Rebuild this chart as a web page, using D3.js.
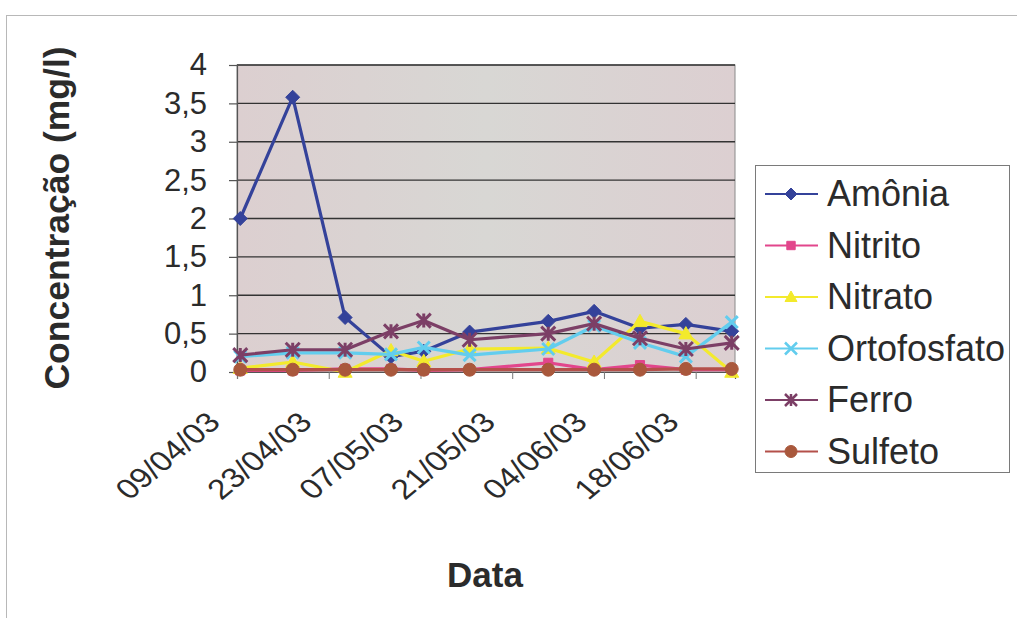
<!DOCTYPE html>
<html>
<head>
<meta charset="utf-8">
<script src="https://cdn.jsdelivr.net/npm/d3@7"></script>
<style>
  body { margin: 0; background: #ffffff; }
  text { font-family: "Liberation Sans", Arial, sans-serif; fill: #2b2b2b; }
</style>
</head>
<body>
<svg id="chart" width="1017" height="618"></svg>
<script>
// Sampling dates (dd/mm/yy)
const dates = ["09/04/03","17/04/03","25/04/03","02/05/03","07/05/03","14/05/03",
               "26/05/03","02/06/03","09/06/03","16/06/03","23/06/03"];

// Concentrations in mg/l
const amonia      = [2.00, 3.58, 0.71, 0.20, 0.27, 0.52, 0.66, 0.79, 0.57, 0.62, 0.53];
const nitrito     = [0.02, 0.02, 0.04, 0.04, 0.02, 0.03, 0.12, 0.03, 0.09, 0.03, 0.03];
const nitrato     = [0.05, 0.13, 0.00, 0.28, 0.14, 0.30, 0.31, 0.13, 0.66, 0.50, 0.00];
const ortofosfato = [0.20, 0.25, 0.25, 0.23, 0.32, 0.22, 0.30, 0.60, 0.38, 0.20, 0.65];
const ferro       = [0.22, 0.29, 0.29, 0.53, 0.67, 0.42, 0.50, 0.63, 0.44, 0.30, 0.38];
const sulfeto     = [0.03, 0.03, 0.03, 0.03, 0.03, 0.03, 0.03, 0.03, 0.03, 0.04, 0.04];

const seriesNames  = ["Amônia", "Nitrito", "Nitrato", "Ortofosfato", "Ferro", "Sulfeto"];
const seriesValues = [amonia, nitrito, nitrato, ortofosfato, ferro, sulfeto];

const xTickLabels = ["09/04/03","23/04/03","07/05/03","21/05/03","04/06/03","18/06/03"];
const yTickValues = [0, 0.5, 1, 1.5, 2, 2.5, 3, 3.5, 4];

// Styling per series
const colors  = ["#34429a", "#e2468c", "#f3ea2c", "#62cdee", "#7c3f66", "#a9583c"];
const lineCol = ["#34429a", "#e2468c", "#f3ea2c", "#62cdee", "#7c3f66", "#b4504a"];
const markers = ["diamond", "square", "triangle", "cross", "star", "circle"];

const parse = d3.timeParse("%d/%m/%y");
const svg = d3.select("#chart");

const plot = { left: 237, right: 735, top: 65, bottom: 372 };

// Date axis: each day is one slot, points sit in the middle of their day
const firstDay = parse(dates[0]);
const endDay = d3.timeDay.offset(parse(dates[dates.length - 1]), 1);
const x = d3.scaleTime().domain([firstDay, endDay]).range([plot.left, plot.right]);
const y = d3.scaleLinear().domain([0, 4]).range([plot.bottom, plot.top]);
const xPoint = s => x(d3.timeHour.offset(parse(s), 12));

const ptBR = d3.formatLocale({ decimal: ",", thousands: ".", grouping: [3], currency: ["R$", ""] });
const fmt = ptBR.format("~g");

// Outer chart frame
svg.append("rect")
  .attr("x", 6.5).attr("y", 15.5).attr("width", 1030).attr("height", 620)
  .attr("fill", "none").attr("stroke", "#b8b8b8").attr("stroke-width", 1);

// Plot background
const defs = svg.append("defs");
const grad = defs.append("linearGradient").attr("id", "plotBg")
  .attr("x1", "0").attr("x2", "1").attr("y1", "0").attr("y2", "0");
grad.append("stop").attr("offset", "0").attr("stop-color", "#dccfd0");
grad.append("stop").attr("offset", "0.5").attr("stop-color", "#d8d7d4");
grad.append("stop").attr("offset", "1").attr("stop-color", "#dccfd1");

svg.append("rect")
  .attr("x", plot.left).attr("y", plot.top)
  .attr("width", plot.right - plot.left).attr("height", plot.bottom - plot.top)
  .attr("fill", "url(#plotBg)").attr("stroke", "#8a8a8a").attr("stroke-width", 1);

// Horizontal gridlines
svg.append("g").selectAll("line").data(yTickValues.filter(v => v > 0)).join("line")
  .attr("x1", plot.left).attr("x2", plot.right)
  .attr("y1", d => y(d)).attr("y2", d => y(d))
  .attr("stroke", "#333333").attr("stroke-width", 1.3);

// Y axis
const yAxis = d3.axisLeft(y).tickValues(yTickValues).tickFormat(fmt).tickSize(8).tickPadding(22);
const gy = svg.append("g").attr("transform", `translate(${plot.left},0)`).call(yAxis);
gy.select(".domain").attr("stroke", "#555").attr("stroke-width", 1.2);
gy.selectAll(".tick line").attr("stroke", "#555").attr("stroke-width", 1.2);
gy.selectAll(".tick text")
  .attr("font-size", 31).attr("fill", "#2b2b2b")
  .style("font-family", "'Liberation Sans', Arial, sans-serif");

// X axis with tick marks every 14 days
const xTickDates = xTickLabels.map(parse);
const xAxis = d3.axisBottom(x).tickValues(xTickDates).tickFormat(() => "").tickSize(7);
const gx = svg.append("g").attr("transform", `translate(0,${plot.bottom})`).call(xAxis);
gx.select(".domain").attr("stroke", "#555").attr("stroke-width", 1.2);
gx.selectAll(".tick line").attr("stroke", "#777").attr("stroke-width", 1);

// Rotated date labels (slightly widened glyphs)
svg.append("g").selectAll("text").data(xTickLabels).join("text")
  .attr("transform", d => `translate(${x(parse(d)) - 15},${plot.bottom + 52}) scale(1.2,1) rotate(-45)`)
  .attr("text-anchor", "end")
  .attr("font-size", 28)
  .text(d => d);

// Axis titles
svg.append("text")
  .attr("transform", "translate(69,218) rotate(-90)")
  .attr("text-anchor", "middle")
  .attr("font-size", 35.5).attr("font-weight", "bold")
  .text("Concentração (mg/l)");

svg.append("text")
  .attr("x", 485).attr("y", 587)
  .attr("text-anchor", "middle")
  .attr("font-size", 35).attr("font-weight", "bold")
  .text("Data");

// Marker shapes
function markerPath(kind, s) {
  switch (kind) {
    case "diamond": return `M0,${-s}L${s},0L0,${s}L${-s},0Z`;
    case "square": return `M${-s * 0.7},${-s * 0.7}H${s * 0.7}V${s * 0.7}H${-s * 0.7}Z`;
    case "triangle": return `M0,${-s}L${s},${s * 0.75}L${-s},${s * 0.75}Z`;
    case "cross": return `M${-s},${-s}L${s},${s}M${s},${-s}L${-s},${s}`;
    case "star": return `M${-s},${-s}L${s},${s}M${s},${-s}L${-s},${s}M0,${-s}L0,${s}`;
    case "circle": return d3.symbol(d3.symbolCircle, Math.PI * s * s)();
  }
}
const isStroke = k => k === "cross" || k === "star";

const line = d3.line().x(d => xPoint(d.date)).y(d => y(d.value));

// Series lines and markers
seriesValues.forEach((vals, i) => {
  const pts = vals.map((v, j) => ({ date: dates[j], value: v }));
  const g = svg.append("g");
  g.append("path").datum(pts)
    .attr("d", line)
    .attr("fill", "none")
    .attr("stroke", lineCol[i])
    .attr("stroke-width", 3.2)
    .attr("stroke-linejoin", "round");
  const size = { diamond: 7, square: 6.5, triangle: 7, cross: 6, star: 7, circle: 6.5 }[markers[i]];
  g.selectAll("path.m").data(pts).join("path")
    .attr("class", "m")
    .attr("transform", d => `translate(${xPoint(d.date)},${y(d.value)})`)
    .attr("d", markerPath(markers[i], size))
    .attr("fill", isStroke(markers[i]) ? "none" : colors[i])
    .attr("stroke", colors[i])
    .attr("stroke-width", isStroke(markers[i]) ? 3 : 1);
});

// Legend
const legend = svg.append("g");
legend.append("rect")
  .attr("x", 755.5).attr("y", 165.5).attr("width", 254).attr("height", 307)
  .attr("fill", "#ffffff").attr("stroke", "#7a7a7a").attr("stroke-width", 1);

seriesNames.forEach((name, i) => {
  const cy = 194 + i * 51.5;
  const item = legend.append("g");
  item.append("line")
    .attr("x1", 765).attr("x2", 818).attr("y1", cy).attr("y2", cy)
    .attr("stroke", lineCol[i]).attr("stroke-width", 1.8);
  item.append("path")
    .attr("transform", `translate(791,${cy})`)
    .attr("d", markerPath(markers[i], 6))
    .attr("fill", isStroke(markers[i]) ? "none" : colors[i])
    .attr("stroke", colors[i])
    .attr("stroke-width", isStroke(markers[i]) ? 2.5 : 1);
  item.append("text")
    .attr("x", 827).attr("y", cy + 12)
    .attr("font-size", 36)
    .text(name);
});
</script>
</body>
</html>
